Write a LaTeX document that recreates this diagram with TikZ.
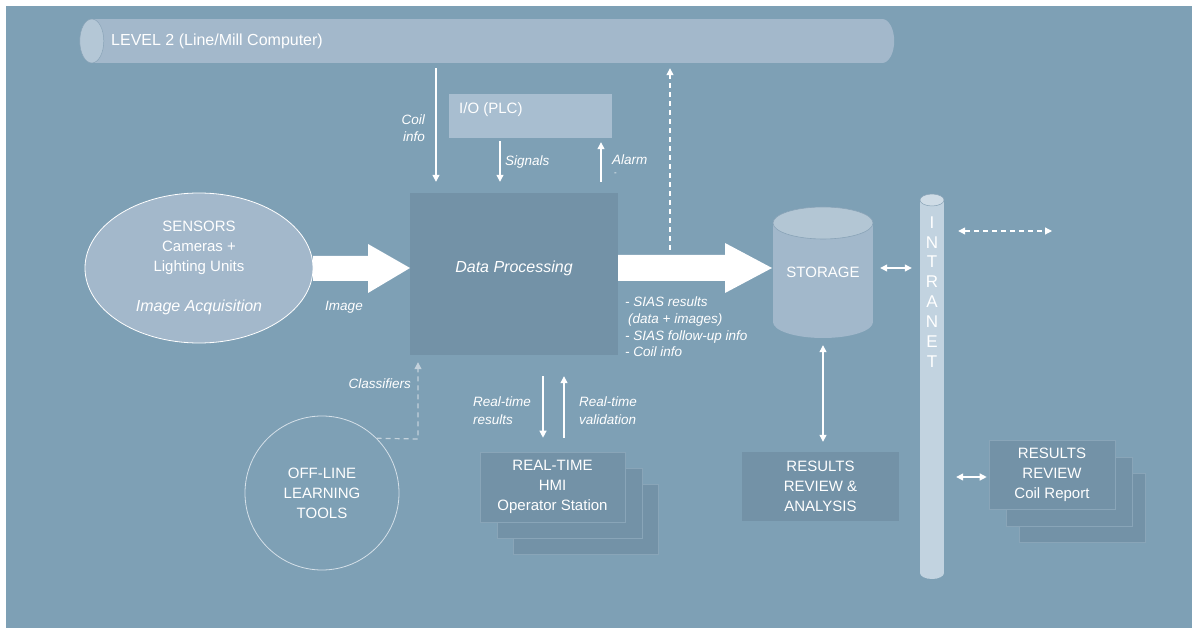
\documentclass[tikz,border=0pt]{standalone}
\usepackage{fontspec}
\setmainfont{Liberation Sans}
\usetikzlibrary{arrows.meta,shapes.geometric,calc}
\definecolor{bgc}{HTML}{7EA0B5}
\definecolor{l2c}{HTML}{A3B8CB}
\definecolor{l2cap}{HTML}{B4C7D6}
\definecolor{capline}{HTML}{8AA4B8}
\definecolor{ioc}{HTML}{A8BED0}
\definecolor{dpc}{HTML}{7392A7}
\definecolor{dpedge}{HTML}{89A5B8}
\definecolor{senc}{HTML}{A3B8CB}
\definecolor{stc}{HTML}{A2B8CB}
\definecolor{sttop}{HTML}{B3C6D4}
\definecolor{intc}{HTML}{C2D3E0}
\definecolor{inttop}{HTML}{CFDCE6}
\definecolor{offc}{HTML}{D5E0E8}
\definecolor{clsc}{HTML}{C3D1DB}
\begin{document}
\begin{tikzpicture}[x=1pt,y=-1pt,
  tip/.tip={Triangle[length=7pt,width=7pt]},
  arr/.style={draw=white, line width=1.2pt, -tip},
  darr/.style={draw=white, line width=1.2pt, tip-tip},
  dsh/.style={dash pattern=on 5pt off 4pt},
  lbl/.style={text=white, font=\fontsize{13.5}{17}\selectfont\itshape, inner sep=0pt},
  boxtxt/.style={text=white, font=\fontsize{15}{20}\selectfont, align=center, inner sep=0pt},
  dkbox/.style={fill=dpc, draw=dpedge, line width=0.6pt, inner sep=0pt, minimum width=145pt, minimum height=70pt},
  rcbox/.style={fill=dpc, draw=dpedge, line width=0.6pt, inner sep=0pt, minimum width=126pt, minimum height=69pt},
]
\useasboundingbox (0,0) rectangle (1192,628);
\fill[white] (0,0) rectangle (1192,628);
\fill[bgc] (6,6) rectangle (1192,628);

% LEVEL 2 bus
\node[fill=l2c, minimum width=790pt, minimum height=44pt, inner sep=0pt] (l2) at (487,41) {};
\fill[l2c] (l2.east) ellipse [x radius=12pt, y radius=22pt];
\filldraw[fill=l2cap, draw=capline, line width=0.5pt] (l2.west) ellipse [x radius=12pt, y radius=22pt];
\node[boxtxt, anchor=west, font=\fontsize{16}{20}\selectfont] (l2t) at (111,41) {LEVEL 2 (Line/Mill Computer)};

% I/O
\node[fill=ioc, minimum width=163pt, minimum height=44pt, inner sep=0pt] (io) at (530.5,116) {};
\node[boxtxt, anchor=west] (iot) at (459,110) {I/O (PLC)};

% Data processing
\node[fill=dpc, minimum width=208pt, minimum height=162pt, inner sep=0pt] (dp) at (514,274) {};
\node[boxtxt, font=\fontsize{16}{20}\selectfont\itshape] (dpt) at (514,268) {Data Processing};

% Big arrows
\fill[white] (313,256) -- (368,256) -- (368,244) -- (410,268) -- (368,293) -- (368,281) -- (313,281) -- cycle;
\fill[white] (618,255) -- (725,255) -- (725,243) -- (772,268) -- (725,293) -- (725,281) -- (618,281) -- cycle;

% Sensors
\node[ellipse, fill=senc, draw=white, line width=0.8pt, minimum width=228pt, minimum height=150pt, boxtxt] (sen) at (199,268)
  {SENSORS\\Cameras +\\Lighting Units\\[20pt]{\fontsize{16}{20}\selectfont\itshape Image Acquisition}};

% Storage
\fill[stc] (773,223) rectangle (873,322);
\fill[stc] (823,322) ellipse [x radius=50pt, y radius=16pt];
\filldraw[fill=sttop, draw=capline, line width=0.6pt] (823,223) ellipse [x radius=50pt, y radius=16pt];
\node[minimum width=100pt, minimum height=131pt, inner sep=0pt] (st) at (823,272.5) {};
\node[boxtxt] (stt) at (823,272) {STORAGE};

% Intranet
\fill[intc] (920,200) rectangle (944,573);
\fill[intc] (932,573) ellipse [x radius=12pt, y radius=6pt];
\filldraw[fill=inttop, draw=capline, line width=0.5pt] (932,200) ellipse [x radius=12pt, y radius=6pt];
\node[minimum width=24pt, minimum height=385pt, inner sep=0pt] (intr) at (932,386.5) {};
\node[boxtxt, font=\fontsize{17}{19.9}\selectfont] (intrt) at (932,292) {I\\N\\T\\R\\A\\N\\E\\T};

% Off-line learning tools
\node[circle, draw=offc, line width=0.8pt, minimum size=154pt, boxtxt] (off) at (322,493) {OFF-LINE\\LEARNING\\TOOLS};

% HMI stack
\node[dkbox] (hmi3) at (586,519.5) {};
\node[dkbox] (hmi2) at (570,503) {};
\node[dkbox, boxtxt] (hmi1) at (552.5,487) {REAL-TIME\\HMI\\Operator Station};

% Results review & analysis
\node[fill=dpc, minimum width=157pt, minimum height=69pt, inner sep=0pt, boxtxt] (rra) at (820.5,486.5) {RESULTS\\REVIEW \&\\ANALYSIS};

% Results review coil report stack
\node[rcbox] (rc3) at (1082,508) {};
\node[rcbox] (rc2) at (1069,491.5) {};
\node[rcbox, boxtxt] (rc1) at (1052,474.5) {RESULTS\\REVIEW\\Coil Report};

% helper coordinates
\coordinate (cx) at (436,0);
\coordinate (sx) at (500,0);
\coordinate (ax) at (601,0);
\coordinate (dsx) at (670,250);
\coordinate (sy) at (0,268);
\coordinate (dde) at (1052,231);
\coordinate (iry) at (0,477);
\coordinate (r1) at (543,0);
\coordinate (r2) at (564,0);
\coordinate (clx) at (418,439);

% connectors
\draw[arr, shorten <=5pt, shorten >=11pt] (l2.south -| cx) -- (dp.north -| cx);
\draw[arr, shorten <=3pt, shorten >=11pt] (io.south -| sx) -- (dp.north -| sx);
\draw[arr, shorten <=11pt, shorten >=4pt] (dp.north -| ax) -- (io.south -| ax);
\draw[arr, dsh, shorten >=5pt] (dsx) -- (l2.south -| dsx);
\draw[darr, shorten <=7pt, shorten >=8pt] (st.east |- sy) -- (intr.west |- sy);
\draw[darr, dsh, shorten <=14pt] (intr.east |- dde) -- (dde);
\draw[darr, shorten <=7pt, shorten >=10pt] (st.south) -- (rra.north -| st.south);
\draw[darr, shorten <=12pt, shorten >=2pt] (intr.east |- iry) -- (rc1.west |- iry);
\draw[arr, shorten <=21pt, shorten >=14pt] (dp.south -| r1) -- (hmi1.north -| r1);
\draw[arr, shorten <=14pt, shorten >=21pt] (hmi1.north -| r2) -- (dp.south -| r2);
\draw[draw=clsc, line width=1.2pt, dsh, -{Triangle[length=7pt,width=7pt,fill=clsc]}, shorten >=7pt] (off.45) -- (clx) -- (dp.south -| clx);

% labels
\node[lbl, align=right, anchor=east] (coill) at (425,128.5) {Coil\\info};
\node[lbl, anchor=west] (sigl) at (505,162) {Signals};
\node[lbl, anchor=west] (alarml) at (612,160) {Alarm};
\node[lbl, anchor=west, font=\fontsize{8}{8}\selectfont] (alarmd) at (614,174) {-};
\node[lbl] (imgl) at (344,307) {Image};
\node[lbl, anchor=west, align=left, font=\fontsize{13.5}{16.7}\selectfont\itshape] (siasl) at (625,327) {- SIAS results\\\hspace*{3pt}(data + images)\\- SIAS follow-up info\\- Coil info};
\node[lbl, anchor=east] (clsl) at (411,384) {Classifiers};
\node[lbl, anchor=west, align=left, font=\fontsize{13.5}{18}\selectfont\itshape] (rtrl) at (473,411) {Real-time\\results};
\node[lbl, anchor=west, align=left, font=\fontsize{13.5}{18}\selectfont\itshape] (rtvl) at (579,411) {Real-time\\validation};
\end{tikzpicture}
\end{document}
